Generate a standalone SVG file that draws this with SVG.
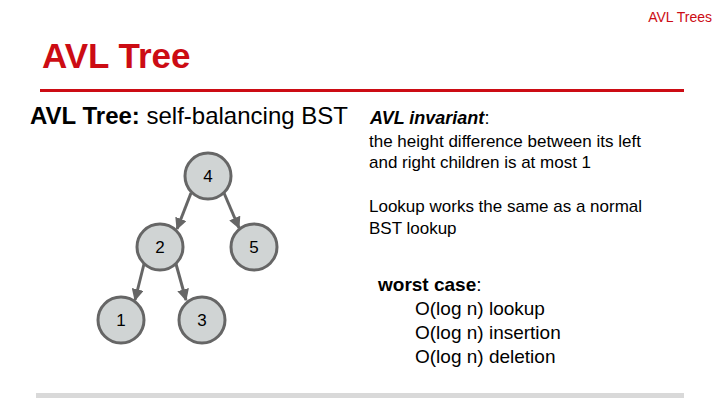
<svg xmlns="http://www.w3.org/2000/svg" width="720" height="405" viewBox="0 0 720 405">
<style>
text{font-family:"Liberation Sans",Arial,sans-serif}
.red{fill:#cc0c14}
.n circle{fill:#d0d4d4;stroke:#666;stroke-width:3}
.n text{font-size:17px;fill:#000;text-anchor:middle}
.e line{stroke:#666;stroke-width:3;marker-end:url(#a)}
.b{font-size:17px;fill:#000}
</style>
<defs><marker id="a" viewBox="0 0 10 10" refX="9" refY="5" markerWidth="4" markerHeight="4" orient="auto"><path d="M0,0L10,5L0,10z" fill="#666"/></marker></defs>
<rect width="720" height="405" fill="#fff"/>
<text x="712" y="22" class="red" font-size="14" text-anchor="end">AVL Trees</text>
<text x="42" y="68" class="red" font-size="35" font-weight="bold">AVL Tree</text>
<rect x="40" y="89" width="644" height="3" fill="#cc0c14"/>
<text x="30" y="124" font-size="24"><tspan font-weight="bold">AVL Tree:</tspan> self-balancing BST</text>
<text x="370" y="124" font-size="18" font-weight="bold" font-style="italic">AVL invariant<tspan font-weight="normal" font-style="normal">:</tspan></text>
<text x="369" y="147" class="b">the height difference between its left</text>
<text x="369" y="168" class="b">and right children is at most 1</text>
<text x="369" y="212" class="b">Lookup works the same as a normal</text>
<text x="369" y="234" class="b">BST lookup</text>
<text x="378" y="291" font-size="19"><tspan font-weight="bold">worst case</tspan>:</text>
<text x="415" y="315" font-size="19">O(log n) lookup</text>
<text x="415" y="339" font-size="19">O(log n) insertion</text>
<text x="415" y="363" font-size="19">O(log n) deletion</text>
<rect x="36" y="393" width="648" height="5" fill="#d9d9d9"/>
<g class="e">
<line x1="191" y1="193" x2="177" y2="229"/>
<line x1="224" y1="193" x2="239" y2="228"/>
<line x1="144" y1="264" x2="135" y2="300"/>
<line x1="176" y1="264" x2="186" y2="300"/>
</g>
<g id="n4" class="n"><circle cx="208" cy="176" r="23"/><text x="208" y="182">4</text></g>
<g id="n2" class="n"><circle cx="160" cy="247" r="23"/><text x="160" y="253">2</text></g>
<g id="n5" class="n"><circle cx="254" cy="247" r="23"/><text x="254" y="253">5</text></g>
<g id="n1" class="n"><circle cx="121" cy="320" r="23"/><text x="121" y="326">1</text></g>
<g id="n3" class="n"><circle cx="202" cy="320" r="23"/><text x="202" y="326">3</text></g>
</svg>
